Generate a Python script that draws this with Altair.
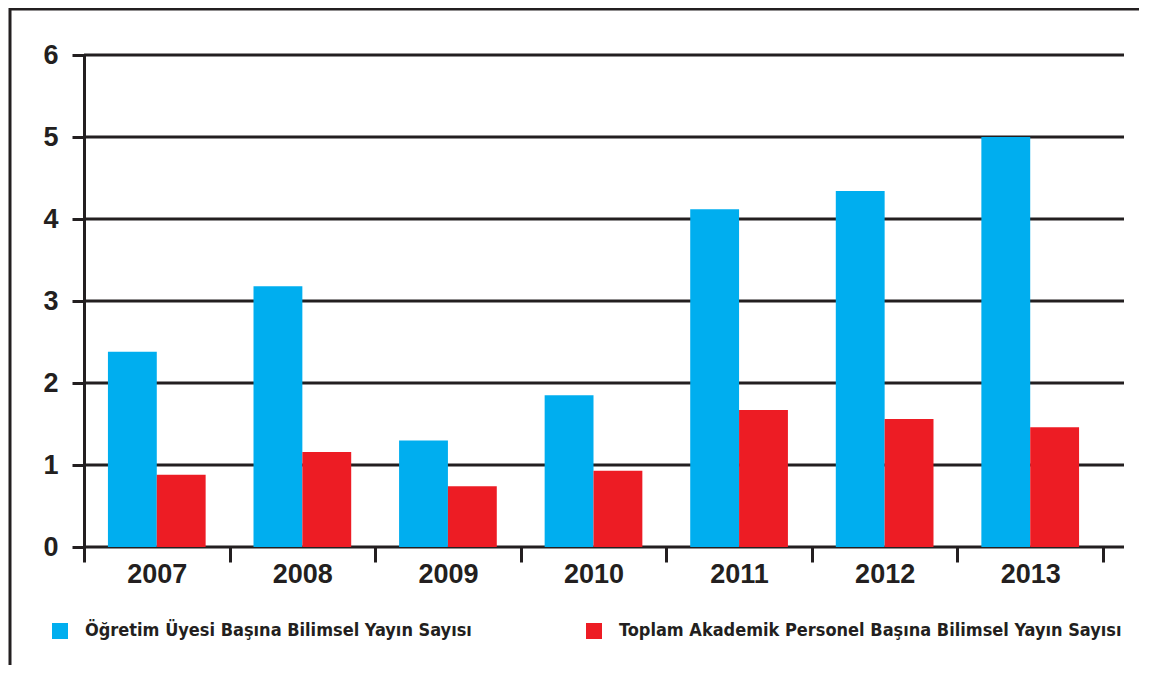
import altair as alt
import pandas as pd

years = ["2007", "2008", "2009", "2010", "2011", "2012", "2013"]
series_names = [
    "Öğretim Üyesi Başına Bilimsel Yayın Sayısı",
    "Toplam Akademik Personel Başına Bilimsel Yayın Sayısı",
]
faculty_values = [2.38, 3.18, 1.30, 1.85, 4.12, 4.34, 5.00]
total_values = [0.88, 1.16, 0.74, 0.93, 1.67, 1.56, 1.46]
colors = ["#00AEEF", "#ED1C24"]
y_ticks = [0, 1, 2, 3, 4, 5, 6]

rows = []
for i, y in enumerate(years):
    rows.append({"Yıl": y, "Seri": series_names[0], "Değer": faculty_values[i]})
    rows.append({"Yıl": y, "Seri": series_names[1], "Değer": total_values[i]})
df = pd.DataFrame(rows)
grid_df = pd.DataFrame({"Değer": y_ticks})

INK = "#231f20"
W, H = 1040, 492
y_scale = alt.Scale(domain=[0, 6], nice=False)

bars = alt.Chart(df).mark_bar(strokeWidth=0).encode(
    x=alt.X(
        "Yıl:N",
        sort=years,
        title=None,
        scale=alt.Scale(paddingInner=0, paddingOuter=0, range=[0, 1019]),
        axis=alt.Axis(
            tickBand="extent",
            tickSize=15,
            tickWidth=3,
            tickColor=INK,
            domain=False,
            grid=False,
            labelAngle=0,
            labelFont="Liberation Sans",
            labelFontWeight="bold",
            labelFontSize=27,
            labelColor=INK,
            labelPadding=-1,
        ),
    ),
    xOffset=alt.XOffset(
        "Seri:N",
        sort=series_names,
        scale=alt.Scale(paddingOuter=0.49, paddingInner=0),
    ),
    y=alt.Y(
        "Değer:Q",
        title=None,
        scale=y_scale,
        axis=alt.Axis(
            values=y_ticks,
            format="d",
            grid=False,
            tickSize=12,
            tickWidth=3,
            tickColor=INK,
            domain=True,
            domainColor=INK,
            domainWidth=3,
            labelFont="Liberation Sans",
            labelFontWeight="bold",
            labelFontSize=27,
            labelColor=INK,
            labelPadding=14,
        ),
    ),
    color=alt.Color(
        "Seri:N",
        sort=series_names,
        scale=alt.Scale(domain=series_names, range=colors),
        legend=alt.Legend(
            title=None,
            orient="none",
            legendX=-33,
            legendY=567,
            direction="horizontal",
            symbolType="square",
            symbolSize=256,
            symbolStrokeWidth=0,
            labelFont="DejaVu Sans Condensed",
            labelFontWeight="bold",
            labelFontSize=18,
            labelColor=INK,
            labelOffset=16,
            labelLimit=700,
            columnPadding=113,
        ),
    ),
)

grid = alt.Chart(grid_df).mark_rule(color=INK, strokeWidth=3).encode(
    y=alt.Y("Değer:Q", scale=y_scale),
    x=alt.value(0),
    x2=alt.value(W),
)

frame = alt.Chart(alt.Data(values=[{"k": 1}])).mark_rect(
    fill=None, stroke=INK, strokeWidth=3
).encode(
    x=alt.value(-74),
    x2=alt.value(1080),
    y=alt.value(-46),
    y2=alt.value(616),
)

chart = alt.layer(frame, grid, bars).properties(
    width=W,
    height=H,
    background="white",
    padding={"left": 76, "top": 47, "right": 15, "bottom": 118},
    autosize=alt.AutoSizeParams(type="none"),
).configure_view(stroke=None)

chart.save("out.html", embed_options={"renderer": "svg", "actions": False})
